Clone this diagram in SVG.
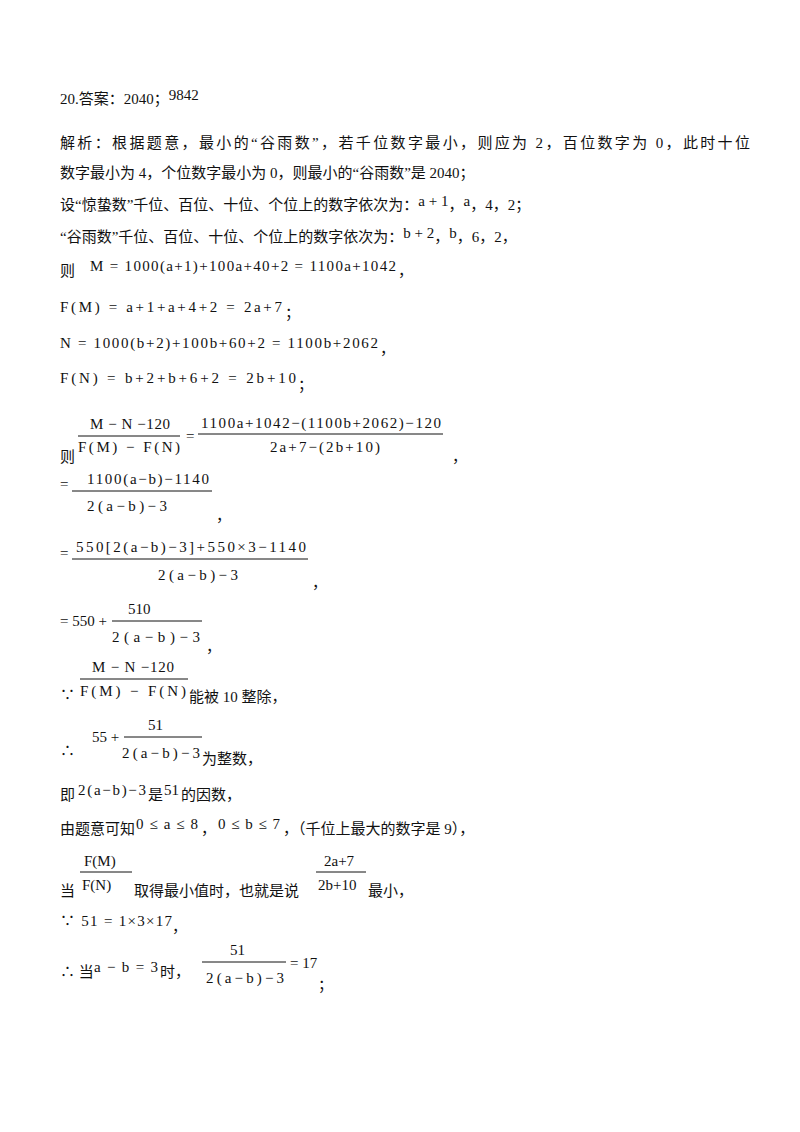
<svg xmlns="http://www.w3.org/2000/svg" width="800" height="1132" viewBox="0 0 800 1132">
<style>
text{font-family:"Liberation Serif","Noto Sans CJK SC",serif;font-size:15px;fill:#111}
line{stroke:#111;stroke-width:1}
</style>
<rect width="800" height="1132" fill="#fff"/>
<g id="text">
<text x="60" y="104">20.答案：2040；<tspan dy="-4">9842</tspan></text>
<text x="60" y="148" textLength="690">解析：根据题意，最小的“谷雨数”，若千位数字最小，则应为 2，百位数字为 0，此时十位</text>
<text x="60" y="178">数字最小为 4，个位数字最小为 0，则最小的“谷雨数”是 2040；</text>
<text x="60" y="210">设“惊蛰数”千位、百位、十位、个位上的数字依次为：<tspan dy="-4">a + 1</tspan><tspan dy="4">，</tspan><tspan dy="-4">a</tspan><tspan dy="4">，4，2；</tspan></text>
<text x="60" y="242">“谷雨数”千位、百位、十位、个位上的数字依次为：<tspan dy="-4">b + 2</tspan><tspan dy="4">，</tspan><tspan dy="-4">b</tspan><tspan dy="4">，6，2，</tspan></text>
<text x="60" y="276">则</text>
<text x="90" y="271" textLength="306" lengthAdjust="spacing">M = 1000(a+1)+100a+40+2 = 1100a+1042</text><text x="398" y="276">，</text>
<text x="60" y="312" textLength="222" lengthAdjust="spacing">F(M) = a+1+a+4+2 = 2a+7</text><text x="285" y="318">；</text>
<text x="60" y="348" textLength="318" lengthAdjust="spacing">N = 1000(b+2)+100b+60+2 = 1100b+2062</text><text x="380" y="354">，</text>
<text x="60" y="383" textLength="236" lengthAdjust="spacing">F(N) = b+2+b+6+2 = 2b+10</text><text x="298" y="390">；</text>
<text x="90" y="429" textLength="80" lengthAdjust="spacing">M − N −120</text><line x1="78" y1="436" x2="180" y2="436"/>
<text x="78" y="452" textLength="102" lengthAdjust="spacing">F(M) − F(N)</text>
<text x="186" y="441">=</text>
<text x="201" y="428" textLength="240" lengthAdjust="spacing">1100a+1042−(1100b+2062)−120</text><line x1="198" y1="434" x2="443" y2="434"/>
<text x="270" y="452" textLength="110" lengthAdjust="spacing">2a+7−(2b+10)</text>
<text x="60" y="462">则</text><text x="452" y="462">，</text>
<text x="60" y="489">=</text><text x="87" y="484" textLength="122" lengthAdjust="spacing">1100(a−b)−1140</text><line x1="72" y1="491" x2="212" y2="491"/>
<text x="87" y="511" textLength="80" lengthAdjust="spacing">2(a−b)−3</text><text x="216" y="521">，</text>
<text x="60" y="558">=</text><text x="76" y="552" textLength="230" lengthAdjust="spacing">550[2(a−b)−3]+550×3−1140</text><line x1="72" y1="559" x2="308" y2="559"/>
<text x="158" y="580" textLength="80" lengthAdjust="spacing">2(a−b)−3</text><text x="312" y="588">，</text>
<text x="60" y="626">= 550 +</text><text x="128" y="614">510</text><line x1="112" y1="621" x2="202" y2="621"/>
<text x="112" y="642" textLength="88" lengthAdjust="spacing">2(a−b)−3</text><text x="206" y="652">，</text>
<text x="92" y="672" textLength="82" lengthAdjust="spacing">M − N −120</text><line x1="80" y1="679" x2="188" y2="679"/>
<text x="60" y="700">∵</text><text x="80" y="696" textLength="106" lengthAdjust="spacing">F(M) − F(N)</text><text x="189" y="702">能被 10 整除，</text>
<text x="60" y="756">∴</text><text x="92" y="742">55 +</text><text x="148" y="730">51</text><line x1="124" y1="737" x2="202" y2="737"/>
<text x="122" y="758" textLength="78" lengthAdjust="spacing">2(a−b)−3</text><text x="202" y="764">为整数，</text>
<text x="60" y="800">即</text><text x="78" y="795" textLength="68" lengthAdjust="spacing">2(a−b)−3</text><text x="148" y="800">是</text><text x="164" y="795">51</text><text x="181" y="800">的因数，</text>
<text x="60" y="834">由题意可知</text><text x="136" y="829" textLength="62" lengthAdjust="spacing">0 ≤ a ≤ 8</text><text x="201" y="834">，</text><text x="218" y="829" textLength="62" lengthAdjust="spacing">0 ≤ b ≤ 7</text><text x="283" y="834">，（千位上最大的数字是 9），</text>
<text x="84" y="866">F(M)</text><line x1="80" y1="872" x2="132" y2="872"/>
<text x="60" y="896">当</text><text x="82" y="890">F(N)</text><text x="134" y="896">取得最小值时，也就是说</text>
<text x="324" y="866">2a+7</text><line x1="316" y1="872" x2="366" y2="872"/><text x="318" y="890">2b+10</text><text x="368" y="896">最小，</text>
<text x="60" y="926" textLength="112" lengthAdjust="spacing">∵ 51 = 1×3×17</text><text x="172" y="932">，</text>
<text x="60" y="977">∴ 当</text><text x="94" y="972" textLength="64" lengthAdjust="spacing">a − b = 3</text><text x="160" y="977">时，</text>
<text x="230" y="955">51</text><line x1="202" y1="962" x2="286" y2="962"/><text x="206" y="983" textLength="78" lengthAdjust="spacing">2(a−b)−3</text><text x="290" y="968">= 17</text><text x="318" y="990">；</text>
</g>
</svg>
